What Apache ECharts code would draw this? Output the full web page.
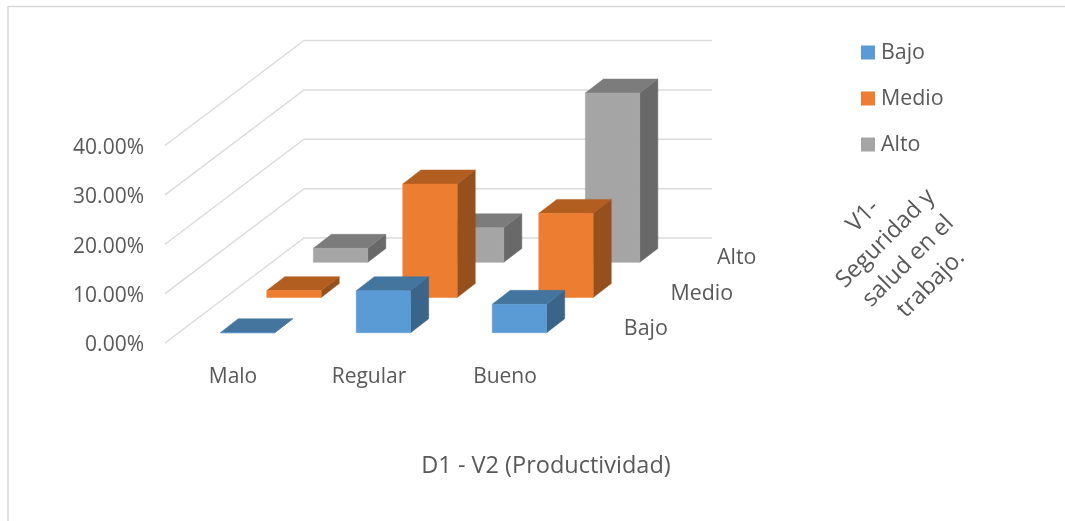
<!DOCTYPE html>
<html>
<head>
<meta charset="utf-8">
<style>html,body{margin:0;padding:0;background:#fff}#c{width:1065px;height:521px}</style>
<script src="https://cdn.jsdelivr.net/npm/echarts@6/dist/echarts.min.js"></script>
</head>
<body>
<div id="c"></div>
<script>
const categories = ['Malo', 'Regular', 'Bueno'];
const rows = ['Bajo', 'Medio', 'Alto'];
const bajo = [0, 8.5, 5.75];
const medio = [1.4, 23.0, 17.05];
const alto = [2.85, 7.0, 34.3];
const ticks = [0, 10, 20, 30, 40];

const FONT = '"Open Sans", sans-serif';
const TEXT = '#595959';
const DEPTH_X = 139, DEPTH_Y = 105;
const ROW_START = 0.098, ROW_STEP = 0.335, BAR_DEPTH = 0.133;
const BAR_WIDTH = 0.4, BAR_SHIFT = 0.8, SIDE_X = 0.13;

function barRender(row, faces) {
  return function (params, api) {
    const base = api.coord([api.value(0), 0]);
    const top = api.coord([api.value(0), api.value(1)]);
    const band = api.size([1, 0])[0];
    const t = ROW_START + row * ROW_STEP;
    const w = band * BAR_WIDTH;
    const x0 = base[0] + t * DEPTH_X - w / 2 + BAR_SHIFT;
    const x1 = x0 + w;
    const yb = base[1] - t * DEPTH_Y;
    const yt = top[1] - t * DEPTH_Y;
    const dx = SIDE_X * DEPTH_X, dy = BAR_DEPTH * DEPTH_Y;
    const poly = (points, fill) => ({ type: 'polygon', shape: { points }, style: { fill, stroke: fill, lineWidth: 0.5 } });
    return {
      type: 'group',
      children: [
        poly([[x1, yb], [x1 + dx, yb - dy], [x1 + dx, yt - dy], [x1, yt]], faces[2]),
        poly([[x0, yt], [x1, yt], [x1 + dx, yt - dy], [x0 + dx, yt - dy]], faces[1]),
        poly([[x0, yb], [x1, yb], [x1, yt], [x0, yt]], faces[0])
      ]
    };
  };
}

function barSeries(name, values, row, faces, z) {
  return {
    name, type: 'custom', z, silent: true,
    itemStyle: { color: faces[0] },
    encode: { x: 0, y: 1 },
    data: values.map((v, i) => [i, v]),
    renderItem: barRender(row, faces)
  };
}

const option = {
  animation: false,
  backgroundColor: '#fff',
  textStyle: { fontFamily: FONT },
  grid: { left: 165, top: 145.5, width: 408, height: 197.5, containLabel: false },
  title: {
    text: 'D1 - V2 (Productividad)', left: 541, top: 449, textAlign: 'center',
    textStyle: { color: TEXT, fontFamily: FONT, fontSize: 23.5, fontWeight: 'normal' }
  },
  legend: {
    left: 861, top: 42, orient: 'vertical', icon: 'rect', padding: 0,
    itemWidth: 14, itemHeight: 14, itemGap: 25,
    data: rows,
    textStyle: { color: TEXT, fontFamily: FONT, fontSize: 21.4, padding: [5, 0, 0, 1] }
  },
  xAxis: {
    type: 'category', data: categories,
    axisLine: { show: false }, axisTick: { show: false },
    axisLabel: { color: TEXT, fontFamily: FONT, fontSize: 21, margin: 24 }
  },
  yAxis: {
    type: 'value', min: 0, max: 40, interval: 10,
    axisLine: { show: false }, axisTick: { show: false }, splitLine: { show: false },
    axisLabel: { color: TEXT, fontFamily: FONT, fontSize: 21, margin: 21, verticalAlign: 'top', lineHeight: 5, formatter: v => v.toFixed(2) + '%' }
  },
  series: [
    {
      type: 'custom', z: 1, silent: true, legendHoverLink: false,
      encode: { y: 0 },
      data: ticks.map(v => [v]),
      renderItem(params, api) {
        const p = api.coord([0, api.value(0)]);
        const band = api.size([1, 0])[0];
        const lx = p[0] - band / 2;
        const bx = lx + DEPTH_X, by = p[1] - DEPTH_Y;
        return {
          type: 'polyline',
          shape: { points: [[lx, p[1]], [bx, by], [bx + band * categories.length, by]] },
          style: { fill: 'none', stroke: '#dcdcdc', lineWidth: 1.5 }
        };
      }
    },
    barSeries('Alto', alto, 2, ['#a5a5a5', '#7c7c7c', '#696969'], 2),
    barSeries('Medio', medio, 1, ['#ed7d31', '#b25e20', '#96501d'], 3),
    barSeries('Bajo', bajo, 0, ['#5b9bd5', '#44759f', '#3a6488'], 4),
    {
      type: 'custom', z: 5, silent: true,
      data: rows.map((r, i) => [i]),
      renderItem(params, api) {
        const i = api.value(0);
        const p = api.coord([categories.length - 1, 0]);
        const band = api.size([1, 0])[0];
        const t = ROW_START + BAR_DEPTH / 2 + i * ROW_STEP;
        return {
          type: 'text',
          style: {
            text: rows[i], x: p[0] + band / 2 + t * DEPTH_X + 28, y: p[1] - t * DEPTH_Y + 3,
            align: 'left', verticalAlign: 'middle', fill: TEXT, font: '21.4px ' + FONT
          }
        };
      }
    }
  ],
  graphic: [
    {
      type: 'text', x: 897, y: 250, rotation: Math.PI / 4, silent: true,
      style: {
        text: 'V1-\nSeguridad y\nsalud en el\ntrabajo.', x: 0, y: 0, align: 'center', verticalAlign: 'middle',
        fill: TEXT, font: '23.5px ' + FONT, lineHeight: 32
      }
    },
    { type: 'line', silent: true, shape: { x1: 8, y1: 6.5, x2: 8, y2: 521 }, style: { stroke: '#d9d9d9', lineWidth: 1.5 } },
    { type: 'line', silent: true, shape: { x1: 8, y1: 6.5, x2: 1065, y2: 6.5 }, style: { stroke: '#d9d9d9', lineWidth: 1.5 } }
  ]
};
const chart = echarts.init(document.getElementById('c'), null, { renderer: 'canvas' });
chart.setOption(option);
</script>
</body>
</html>
